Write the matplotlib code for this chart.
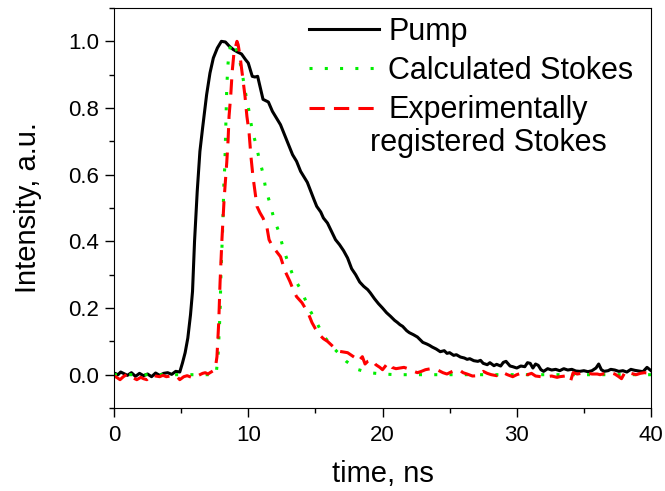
import numpy as np
import matplotlib
matplotlib.use("Agg")
import matplotlib.pyplot as plt

# pump pulse
pump_t = [0.0, 0.3, 0.5, 0.8, 1.0, 1.3, 1.6, 1.9, 2.2, 2.5, 2.8, 3.1, 3.4, 3.7, 4.0, 4.3, 4.6, 4.9,
	5.1, 5.3, 5.5, 5.7, 5.85, 6.0, 6.2, 6.4, 6.6, 6.9, 7.15, 7.4, 7.7, 8.0, 8.3, 8.6, 8.9, 9.2, 9.5,
	9.8, 10.0, 10.3, 10.5, 10.7, 10.9, 11.1, 11.3, 11.5, 11.8, 12.1, 12.4, 12.7, 13.0, 13.3, 13.6,
	13.9, 14.1, 14.4, 14.6, 14.9, 15.1, 15.4, 15.6, 15.9, 16.2, 16.5, 16.8, 17.1, 17.4, 17.7, 18.0,
	18.3, 18.6, 18.9, 19.1, 19.4, 19.7, 20.0, 20.3, 20.6, 20.9, 21.1, 21.3, 21.5, 21.8, 22.0, 22.3,
	22.6, 22.8, 23.0, 23.3, 23.5, 23.7, 24.0, 24.3, 24.6, 24.8, 25.0, 25.3, 25.5, 25.8, 26.1, 26.3,
	26.5, 26.8, 27.1, 27.3, 27.5, 27.8, 28.0, 28.3, 28.5, 28.8, 29.0, 29.2, 29.5, 29.7, 30.0, 30.3,
	30.6, 30.8, 31.0, 31.2, 31.4, 31.6, 31.8, 32.0, 32.3, 32.6, 32.9, 33.2, 33.5, 33.8, 34.1, 34.4,
	34.7, 35.0, 35.3, 35.6, 35.9, 36.1, 36.3, 36.5, 36.8, 37.0, 37.3, 37.6, 37.9, 38.2, 38.5, 38.8,
	39.1, 39.4, 39.7, 40.0]
pump_i = [0.005, 0.0, 0.008, 0.002, -0.002, 0.006, -0.005, 0.004, -0.003, 0.002, -0.006, 0.005,
	-0.002, 0.004, 0.006, 0.001, 0.010, 0.008, 0.035, 0.066, 0.11, 0.18, 0.25, 0.40, 0.55, 0.67,
	0.74, 0.84, 0.905, 0.95, 0.98, 1.0, 0.998, 0.985, 0.975, 0.968, 0.962, 0.945, 0.935, 0.895,
	0.893, 0.895, 0.86, 0.826, 0.822, 0.818, 0.79, 0.77, 0.75, 0.72, 0.69, 0.66, 0.64, 0.61, 0.597,
	0.577, 0.556, 0.525, 0.505, 0.488, 0.47, 0.455, 0.43, 0.405, 0.39, 0.372, 0.35, 0.318, 0.30,
	0.278, 0.265, 0.255, 0.245, 0.228, 0.213, 0.20, 0.186, 0.175, 0.163, 0.157, 0.15, 0.145, 0.132,
	0.126, 0.12, 0.113, 0.105, 0.097, 0.092, 0.088, 0.083, 0.077, 0.069, 0.072, 0.064, 0.066, 0.058,
	0.06, 0.053, 0.05, 0.046, 0.048, 0.042, 0.04, 0.043, 0.034, 0.03, 0.036, 0.027, 0.031, 0.026,
	0.037, 0.040, 0.026, 0.024, 0.020, 0.026, 0.024, 0.036, 0.034, 0.02, 0.032, 0.028, 0.015, 0.01,
	0.018, 0.014, 0.016, 0.012, 0.018, 0.014, 0.016, 0.011, 0.01, 0.012, 0.009, 0.012, 0.02, 0.032,
	0.015, 0.01, 0.012, 0.016, 0.014, 0.01, 0.012, 0.008, 0.016, 0.013, 0.011, 0.009, 0.022, 0.012]

# calculated stokes pulse
calc_t = [0.0, 7.6, 7.75, 7.9, 7.97, 8.1, 8.2, 8.25, 8.3, 8.35, 8.4, 8.47, 8.55, 8.7, 8.85, 9.0,
	9.16, 9.46, 9.83, 10.06, 10.28, 10.58, 10.8, 11.1, 11.3, 11.6, 11.9, 12.3, 12.6, 12.97, 13.4,
	14.0, 14.45, 15.05, 15.6, 16.4, 17.3, 18.2, 19.0, 20.0, 21.0, 40.0]
calc_i = [0.0, 0.0, 0.054, 0.186, 0.306, 0.444, 0.595, 0.62, 0.70, 0.78, 0.86, 0.92, 0.96, 0.99,
	0.998, 0.99, 0.97, 0.925, 0.838, 0.79, 0.736, 0.69, 0.65, 0.604, 0.558, 0.516, 0.47, 0.426,
	0.38, 0.336, 0.29, 0.25, 0.204, 0.16, 0.117, 0.078, 0.04, 0.015, 0.006, 0.002, 0.0, 0.0]

# experimentally registered stokes pulse
exp_t = [0.0, 0.2, 0.45, 0.7, 1.0, 1.2, 1.45, 1.7, 2.0, 2.2, 2.45, 2.7, 2.9, 3.1, 3.4, 3.65, 3.9,
	4.2, 4.5, 4.7, 4.9, 5.2, 5.45, 5.65, 6.0, 6.3, 6.6, 6.8, 7.0, 7.15, 7.4, 7.55, 7.67, 7.8, 7.9,
	8.04, 8.2, 8.4, 8.5, 8.57, 8.7, 8.8, 8.94, 9.16, 9.25, 9.4, 9.6, 9.76, 9.9, 10.06, 10.2, 10.35,
	10.5, 10.65, 10.87, 11.1, 11.4, 11.55, 11.8, 12.0, 12.4, 12.75, 13.1, 13.4, 13.6, 14.0, 14.45,
	14.75, 15.0, 15.3, 15.6, 15.9, 16.3, 16.8, 17.1, 17.4, 17.7, 17.95, 18.2, 18.5, 18.7, 18.9,
	19.2, 19.5, 19.8, 20.0, 20.2, 20.4, 20.7, 21.0, 21.3, 21.6, 21.9, 22.2, 22.6, 22.9, 23.2, 23.6,
	24.06, 24.3, 24.5, 24.8, 25.1, 25.5, 25.8, 26.0, 26.3, 26.7, 27.1, 27.3, 27.5, 27.8, 28.1, 28.5,
	28.8, 29.0, 29.3, 29.7, 30.0, 30.3, 30.5, 30.8, 31.1, 31.4, 31.8, 32.2, 32.6, 33.0, 33.2, 33.6,
	34.0, 34.2, 34.5, 34.8, 35.2, 35.6, 36.0, 36.2, 36.6, 37.0, 37.3, 37.6, 37.8, 38.1, 38.5, 38.9,
	39.2, 39.5, 40.0]
exp_i = [-0.004, -0.008, -0.015, -0.006, 0.002, 0.0, -0.01, -0.015, -0.008, -0.012, -0.015, -0.005,
	0.0, -0.004, -0.006, -0.002, -0.006, -0.004, -0.008, -0.006, -0.015, -0.006, -0.003, -0.006,
	-0.01, -0.002, 0.004, 0.006, 0.002, 0.006, 0.012, 0.02, 0.054, 0.156, 0.276, 0.405, 0.525,
	0.637, 0.705, 0.775, 0.84, 0.907, 0.967, 1.0, 0.99, 0.952, 0.886, 0.835, 0.775, 0.727, 0.655,
	0.595, 0.55, 0.505, 0.486, 0.47, 0.44, 0.405, 0.385, 0.375, 0.354, 0.31, 0.28, 0.25, 0.234,
	0.216, 0.186, 0.156, 0.138, 0.12, 0.108, 0.1, 0.085, 0.07, 0.068, 0.066, 0.058, 0.051, 0.04,
	0.054, 0.032, 0.04, 0.045, 0.03, 0.022, 0.015, 0.025, 0.036, 0.022, 0.018, 0.02, 0.022, 0.018,
	0.012, 0.006, 0.01, 0.015, 0.018, 0.015, 0.01, 0.006, 0.002, 0.008, 0.015, 0.012, 0.006, 0.002,
	-0.004, -0.003, 0.006, 0.01, 0.004, 0.0, -0.003, 0.006, 0.006, 0.0, -0.006, 0.0, 0.004, 0.01,
	0.0, 0.004, -0.004, -0.006, -0.006, -0.004, -0.008, -0.006, -0.004, -0.02, 0.006, 0.002, 0.004,
	0.006, 0.002, 0.002, 0.0, 0.004, 0.006, 0.002, -0.006, -0.012, 0.01, 0.004, 0.0, 0.004, 0.006,
	0.004]

x_ticks = [0, 10, 20, 30, 40]
y_ticks = [0.0, 0.2, 0.4, 0.6, 0.8, 1.0]

plt.rcParams["font.family"] = ["Liberation Sans", "DejaVu Sans"]

fig = plt.figure(figsize=(6.65, 4.91), dpi=100)
ax = fig.add_axes([0.1714, 0.169, 0.8076, 0.8147])

ax.plot(pump_t, pump_i, color="black", lw=2.2, label="Pump")
ax.plot(calc_t, calc_i, color="#00ee00", lw=2.2, dashes=(1, 4), label="Calculated Stokes")
ax.plot(exp_t, exp_i, color="red", lw=2.2, dashes=(5, 3), label="Experimentally")

ax.set_xlim(0, 40)
ax.set_ylim(-0.1, 1.1)
ax.set_xticks(x_ticks)
ax.set_yticks(y_ticks)
ax.set_xticklabels([str(v) for v in x_ticks])
ax.set_yticklabels(["%.1f" % v for v in y_ticks])
ax.set_xticks(np.arange(5, 40, 10), minor=True)
ax.set_yticks(np.arange(-0.1, 1.15, 0.2), minor=True)
ax.tick_params(which="major", direction="out", length=6.5, width=1, labelsize=16, pad=4)
ax.tick_params(axis="x", which="major", pad=6)
ax.tick_params(which="minor", direction="out", length=3.5, width=1)
ax.set_xlabel("time, ns", fontsize=21, labelpad=10)
ax.set_ylabel("Intensity, a.u.", fontsize=21, labelpad=19)

leg = ax.legend(loc="upper left", bbox_to_anchor=(0.34, 1.008), frameon=False, fontsize=22,
	handlelength=2.3, handletextpad=0.3, labelspacing=0.3, borderaxespad=0)
ax.text(0.697, 0.663, "registered Stokes", transform=ax.transAxes, fontsize=22,
	ha="center", va="center")

fig.savefig("out.png", dpi=100)
